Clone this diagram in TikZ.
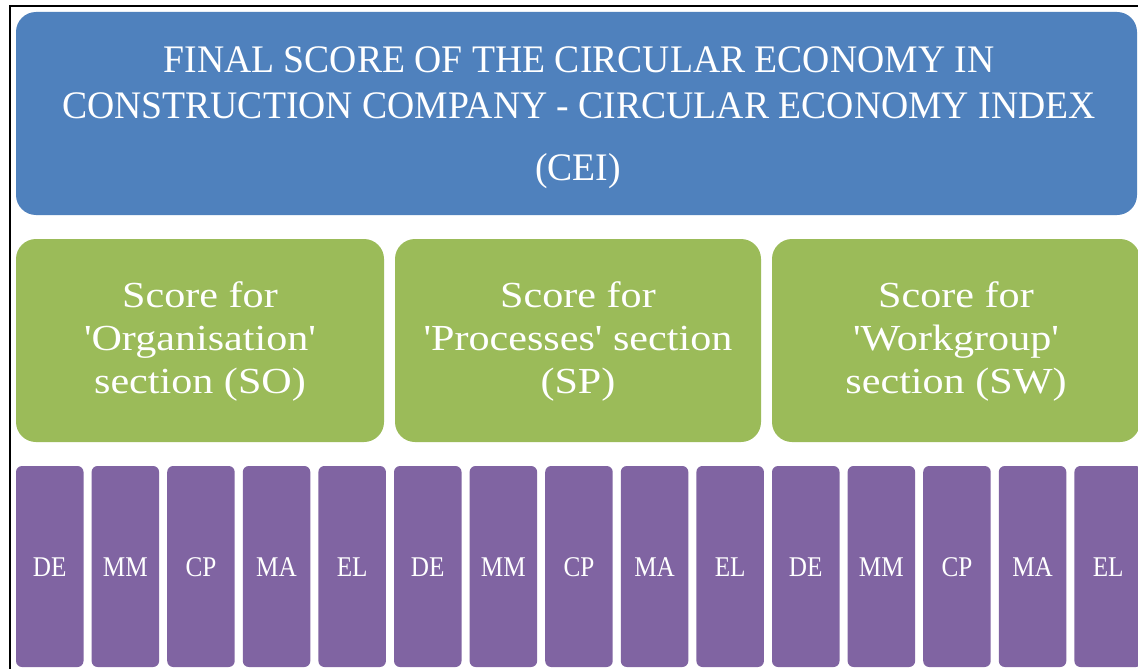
\documentclass[tikz,border=0pt]{standalone}
\usepackage{fontspec}
\setmainfont{Liberation Serif}
\definecolor{ceiblue}{HTML}{4F81BD}
\definecolor{secgreen}{HTML}{9BBB59}
\definecolor{critpurple}{HTML}{8064A2}
\newcommand{\tq}{\textquotesingle}
\newcommand{\ttl}[1]{\scalebox{0.966}[1]{#1}}
\newcommand{\sct}[1]{\scalebox{1.17}[1.02]{#1}}
\newcommand{\crt}[1]{\scalebox{0.9}[1.02]{#1}}
\begin{document}
\begin{tikzpicture}[x=1pt,y=-1pt,
  bigbox/.style={fill=#1,draw=none,rounded corners=20pt},
  critbox/.style={fill=critpurple,draw=none,rounded corners=6pt},
  titletext/.style={text=white,anchor=base,inner sep=0pt,font=\fontsize{39}{39}\selectfont},
  sectext/.style={text=white,anchor=base,inner sep=0pt,font=\fontsize{36}{36}\selectfont},
  crittext/.style={text=white,anchor=base,inner sep=0pt,font=\fontsize{28}{28}\selectfont}]
\useasboundingbox (0,0) rectangle (1138,669);
\clip (0,0) rectangle (1138,669);
\fill[white] (0,0) rectangle (1138,669);
\draw[line width=2pt,black] (10,6) rectangle (1160,690);
% top box
\fill[bigbox=ceiblue] (16,12) rectangle (1137,215);
\node[titletext] (t1) at (579,73) {\ttl{FINAL SCORE OF THE CIRCULAR ECONOMY IN}};
\node[titletext] (t2) at (579,118) {\ttl{CONSTRUCTION COMPANY - CIRCULAR ECONOMY INDEX}};
\node[titletext] (t3) at (578,180) {\ttl{(CEI)}};
% sections
\foreach \xa/\xb/\la/\lb/\lc [count=\i] in {16/384/Score for/\tq Organisation\tq/section (SO),395/761/Score for/\tq Processes\tq{} section/(SP),772/1140/Score for/\tq Workgroup\tq/section (SW)}{
  \fill[bigbox=secgreen] (\xa,239) rectangle (\xb,442);
  \node[sectext] (s\i a) at ({(\xa+\xb)/2},307) {\sct{\la}};
  \node[sectext] (s\i b) at ({(\xa+\xb)/2},350) {\sct{\lb}};
  \node[sectext] (s\i c) at ({(\xa+\xb)/2},393) {\sct{\lc}};
}
% criteria
\foreach \g in {0,1,2}{
  \foreach \lab [count=\j from 0] in {DE,MM,CP,MA,EL}{
    \pgfmathsetmacro{\xl}{16+75.6*(5*\g+\j)}
    \fill[critbox] (\xl,466) rectangle ({\xl+67.5},667);
    \node[crittext] (c\g\j) at ({\xl+33.75},576) {\crt{\lab}};
  }
}
\end{tikzpicture}
\end{document}
